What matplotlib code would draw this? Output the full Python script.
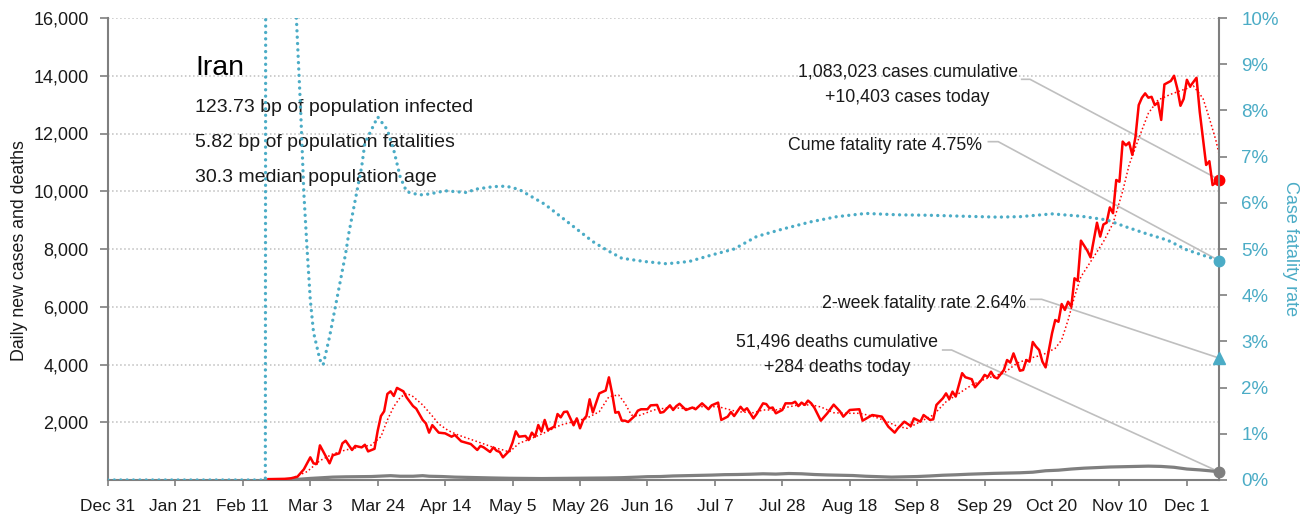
import numpy as np
import matplotlib.pyplot as plt
from matplotlib.ticker import FuncFormatter

plt.rcParams['font.family'] = ['Liberation Sans', 'DejaVu Sans']

RED = '#FF0000'
GRAY = '#7F7F7F'
BLUE = '#4BACC6'
LIGHT = '#BFBFBF'
INK = '#1A1A1A'

# x values are days counted from Dec 31, 2019
last_day = 346
tick_days = list(range(0, 337, 21))
tick_labels = ["Dec 31", "Jan 21", "Feb 11", "Mar 3", "Mar 24", "Apr 14", "May 5",
               "May 26", "Jun 16", "Jul 7", "Jul 28", "Aug 18", "Sep 8", "Sep 29",
               "Oct 20", "Nov 10", "Dec 1"]

country = "Iran"
infected_bp = 123.73
fatal_bp = 5.82
median_age = 30.3
cases_total = 1083023
cases_today = 10403
deaths_total = 51496
deaths_today = 284
cume_cfr = 4.75
twoweek_cfr = 2.64

# daily new cases (day, cases)
cases = [(50, 30), (55, 40), (57, 60), (59, 115), (61, 370), (63, 785), (64, 578), (65, 554),
         (66, 1200), (68, 785), (69, 578), (70, 855), (72, 924), (73, 1270), (74, 1360),
         (76, 1040), (77, 1180), (79, 1130), (80, 1220), (81, 990), (83, 1080), (84, 1710),
         (85, 2215), (86, 2380), (87, 2980), (88, 3070), (89, 2910), (90, 3190), (92, 3070),
         (93, 2860), (95, 2560), (96, 2470), (98, 2080), (99, 1960), (100, 1640), (101, 1900),
         (103, 1640), (105, 1615), (107, 1500), (108, 1560), (110, 1340), (113, 1245),
         (115, 1040), (116, 1180), (117, 1130), (119, 970), (120, 1130), (121, 1015),
         (122, 970), (123, 785), (125, 1015), (126, 1300), (127, 1685), (128, 1500),
         (130, 1525), (131, 1385), (132, 1640), (133, 1500), (134, 1905), (135, 1675),
         (136, 2080), (137, 1730), (139, 1850), (140, 2285), (141, 2170), (142, 2355),
         (143, 2370), (145, 1895), (146, 2135), (147, 1790), (148, 2080), (149, 2215),
         (150, 2795), (151, 2340), (153, 3000), (155, 3100), (156, 3555), (157, 3000),
         (158, 2330), (159, 2355), (160, 2055), (161, 2055), (162, 2010), (164, 2215),
         (165, 2400), (166, 2450), (168, 2450), (169, 2585), (171, 2600), (172, 2330),
         (173, 2355), (175, 2585), (176, 2425), (177, 2560), (178, 2640), (180, 2425),
         (182, 2510), (183, 2450), (185, 2655), (187, 2450), (188, 2585), (190, 2680),
         (191, 2080), (193, 2195), (194, 2355), (195, 2215), (197, 2535), (198, 2400),
         (199, 2485), (201, 2135), (202, 2285), (204, 2655), (205, 2630), (206, 2485),
         (207, 2510), (208, 2310), (210, 2425), (211, 2655), (213, 2655), (214, 2710),
         (215, 2560), (216, 2680), (217, 2600), (218, 2750), (219, 2655), (220, 2500),
         (222, 2055), (224, 2310), (226, 2610), (228, 2370), (229, 2195), (231, 2425),
         (234, 2450), (235, 2055), (238, 2250), (241, 2195), (243, 1850), (245, 1640),
         (246, 1790), (248, 2020), (250, 1870), (251, 2135), (253, 2020), (254, 2250),
         (256, 2080), (257, 2100), (258, 2600), (260, 2830), (261, 3000), (262, 2800),
         (263, 3060), (264, 2890), (266, 3700), (267, 3560), (269, 3490), (270, 3210),
         (272, 3460), (273, 3640), (274, 3570), (275, 3750), (276, 3560), (277, 3520),
         (279, 3810), (280, 4155), (281, 4065), (282, 4385), (284, 3785), (285, 3810),
         (286, 4155), (287, 4100), (288, 4780), (289, 4620), (290, 4500), (291, 4100),
         (292, 3900), (294, 5080), (295, 5540), (296, 5480), (297, 6095), (298, 5890),
         (299, 6175), (300, 6000), (301, 6985), (302, 6900), (303, 8290), (305, 7940),
         (306, 7710), (308, 8910), (309, 8430), (310, 8850), (311, 8910), (312, 9440),
         (313, 9240), (314, 10390), (315, 10330), (316, 11720), (317, 11590), (318, 11690),
         (319, 11260), (320, 11890), (321, 12985), (322, 13240), (323, 13390), (324, 13240),
         (325, 13270), (326, 12985), (327, 13070), (328, 12470), (329, 13700), (331, 13820),
         (332, 14000), (333, 13560), (334, 12960), (335, 13200), (336, 13860), (337, 13630),
         (339, 13930), (340, 12750), (341, 11830), (342, 10910), (343, 11040), (344, 10215),
         (346, 10403)]

# 7-day average of new cases
cases_avg = [(57, 50), (62, 290), (66, 670), (70, 900), (74, 1040), (78, 1130), (82, 1210),
             (85, 1500), (87, 2080), (89, 2540), (91, 2860), (93, 3000), (95, 2890), (98, 2600),
             (101, 2215), (103, 1940), (106, 1710), (109, 1560), (116, 1290), (120, 1130),
             (123, 1040), (125, 970), (128, 1270), (132, 1445), (136, 1640), (141, 1905),
             (145, 2020), (149, 2135), (153, 2365), (156, 2885), (159, 2945), (161, 2655),
             (163, 2250), (165, 2215), (170, 2425), (175, 2515), (180, 2470), (185, 2540),
             (190, 2540), (196, 2365), (201, 2330), (204, 2425), (208, 2425), (211, 2510),
             (215, 2600), (219, 2600), (222, 2530), (226, 2330), (230, 2310), (234, 2310),
             (238, 2215), (242, 2055), (246, 1850), (249, 1790), (253, 2020), (257, 2250),
             (261, 2710), (265, 3000), (269, 3290), (273, 3490), (277, 3640), (279, 3700),
             (283, 4040), (287, 4215), (291, 4330), (295, 4560), (297, 4850), (299, 5540),
             (301, 6350), (303, 7040), (307, 7730), (310, 8250), (313, 8890), (316, 10000),
             (318, 10910), (321, 11830), (324, 12700), (327, 13160), (331, 13360),
             (336, 13560), (338, 13650), (341, 13220), (343, 12525), (345, 11775), (346, 11300)]

# daily deaths
deaths = [(50, 2), (56, 10), (60, 30), (63, 55), (67, 80), (70, 100), (74, 110), (78, 115),
          (82, 120), (86, 140), (88, 150), (91, 130), (95, 130), (98, 150), (100, 130),
          (104, 120), (108, 100), (112, 90), (116, 80), (120, 70), (125, 60), (130, 55),
          (135, 50), (140, 55), (145, 60), (150, 65), (155, 70), (160, 80), (165, 100),
          (168, 115), (172, 120), (176, 140), (180, 150), (184, 160), (188, 170), (192, 185),
          (196, 190), (200, 200), (204, 215), (208, 205), (212, 225), (216, 215), (220, 190),
          (224, 175), (228, 165), (232, 155), (236, 130), (240, 115), (244, 100), (248, 110),
          (252, 120), (256, 140), (260, 165), (264, 180), (268, 200), (272, 215), (276, 230),
          (280, 240), (284, 250), (288, 270), (292, 320), (296, 340), (300, 380), (304, 410),
          (308, 430), (312, 450), (316, 460), (320, 470), (324, 480), (328, 470), (332, 440),
          (336, 380), (340, 350), (343, 320), (346, 284)]

# cumulative case fatality rate, %
cfr = [(0, 0), (49, 0), (50, 100), (51, 40), (53, 18), (55, 19), (57, 14), (58, 11), (60, 8.0),
       (61, 6.2), (62, 5.0), (63, 3.9), (64, 3.2), (66, 2.6), (67, 2.49), (69, 3.1), (71, 3.82),
       (74, 4.9), (75, 5.34), (77, 6.06), (79, 6.78), (80, 7.29), (84, 7.86), (87, 7.58),
       (89, 7.14), (91, 6.56), (93, 6.24), (97, 6.17), (100, 6.19), (105, 6.26), (112, 6.22),
       (114, 6.29), (120, 6.35), (124, 6.36), (128, 6.29), (132, 6.13), (136, 5.97), (141, 5.7),
       (146, 5.43), (151, 5.16), (155, 4.99), (160, 4.8), (167, 4.73), (174, 4.68), (181, 4.73),
       (188, 4.87), (195, 5.0), (202, 5.27), (210, 5.43), (219, 5.59), (227, 5.7), (236, 5.77),
       (246, 5.74), (256, 5.73), (266, 5.71), (277, 5.69), (284, 5.7), (294, 5.76), (303, 5.71),
       (311, 5.63), (317, 5.48), (323, 5.34), (330, 5.19), (336, 4.98), (346, 4.75)]


fig = plt.figure(figsize=(13.1, 5.22), dpi=100)
ax = fig.add_axes([108 / 1310, 42 / 522, 1111 / 1310, 462 / 522])
ax2 = ax.twinx()

x, y = zip(*deaths)
ax.plot(x, y, color=GRAY, lw=2.3, zorder=3)
x, y = zip(*cases)
ax.plot(x, y, color=RED, lw=1.8, zorder=4)
x, y = zip(*cases_avg)
ax.plot(x, y, color=RED, lw=1.1, ls=(0, (1, 1.6)), zorder=5)
x, y = zip(*cfr)
ax2.plot(x, y, color=BLUE, lw=2.4, ls=(0, (0.01, 1.9)), dash_capstyle='round', zorder=3)

# end-of-series markers
ax.plot(last_day, cases_today, 'o', color=RED, ms=7.5, clip_on=False, zorder=6)
ax.plot(last_day, deaths_today, 'o', color=GRAY, ms=7.5, clip_on=False, zorder=6)
ax2.plot(last_day, cume_cfr, 'o', color=BLUE, ms=7.5, clip_on=False, zorder=6)
ax2.plot(last_day, twoweek_cfr, '^', color=BLUE, ms=9, clip_on=False, zorder=6)

ax.set_xlim(0, last_day)
ax.set_ylim(0, 16000)
ax2.set_ylim(0, 10)

ax.set_xticks(tick_days)
ax.set_xticklabels(tick_labels)
ax.set_yticks(range(2000, 16001, 2000))
ax.yaxis.set_major_formatter(FuncFormatter(lambda v, p: f"{int(v):,}"))
ax2.set_yticks(range(0, 11))
ax2.yaxis.set_major_formatter(FuncFormatter(lambda v, p: f"{int(v)}%"))

ax.yaxis.grid(True, ls=':', color=LIGHT, lw=1.1)
ax.set_axisbelow(True)

for a in (ax, ax2):
    for s in a.spines.values():
        s.set_visible(False)
for s in ('left', 'bottom'):
    ax.spines[s].set_visible(True)
    ax.spines[s].set_color(GRAY)
    ax.spines[s].set_linewidth(1.5)
ax2.spines['right'].set_visible(True)
ax2.spines['right'].set_color(GRAY)
ax2.spines['right'].set_linewidth(1.5)

ax.tick_params(axis='x', length=4, width=1.2, color=GRAY, pad=10, labelsize=12.5, labelcolor=INK)
ax.tick_params(axis='y', length=6, width=1.2, color=GRAY, pad=8, labelsize=13, labelcolor=INK)
ax2.tick_params(axis='y', length=6, width=1.2, color=GRAY, pad=10, labelsize=13.5, labelcolor=BLUE)

fig.text(20 / 1310, 1 - 251 / 522, "Daily new cases and deaths", rotation=90,
         ha='center', va='center', fontsize=12.8, color=INK)
fig.text(1291 / 1310, 1 - 249 / 522, "Case fatality rate", rotation=270,
         ha='center', va='center', fontsize=13, color=BLUE)

# country summary block
tx = 87 / 1111
ax.text(tx, 0.877, country, transform=ax.transAxes, fontsize=20.5, color='black', va='baseline')
ax.text(tx, 0.797, f"{infected_bp} bp of population infected", transform=ax.transAxes,
        fontsize=14, color=INK, va='baseline')
ax.text(tx, 0.721, f"{fatal_bp} bp of population fatalities", transform=ax.transAxes,
        fontsize=14, color=INK, va='baseline')
ax.text(tx, 0.646, f"{median_age} median population age", transform=ax.transAxes,
        fontsize=14, color=INK, va='baseline')

# callouts on the right
ax.text(0.7197, 0.874, f"{cases_total:,} cases cumulative", transform=ax.transAxes,
        fontsize=12.8, color=INK, ha='center', va='baseline')
ax.text(0.7197, 0.819, f"+{cases_today:,} cases today", transform=ax.transAxes,
        fontsize=12.8, color=INK, ha='center', va='baseline')
ax.text(0.7864, 0.714, f"Cume fatality rate {cume_cfr}%", transform=ax.transAxes,
        fontsize=12.8, color=INK, ha='right', va='baseline')
ax.text(0.8263, 0.3716, f"2-week fatality rate {twoweek_cfr}%", transform=ax.transAxes,
        fontsize=12.8, color=INK, ha='right', va='baseline')
ax.text(0.6566, 0.2886, f"{deaths_total:,} deaths cumulative", transform=ax.transAxes,
        fontsize=12.8, color=INK, ha='center', va='baseline')
ax.text(0.6566, 0.2345, f"+{deaths_today:,} deaths today", transform=ax.transAxes,
        fontsize=12.8, color=INK, ha='center', va='baseline')


def leader(a, x0, x1, y0, target):
    # horizontal stub from the label, then a straight run to the marker
    tx_, ty_ = ax.transAxes.inverted().transform(a.transData.transform(target))
    ax.plot([x0, x1, tx_], [y0, y0, ty_], color=LIGHT, lw=1.2, transform=ax.transAxes,
            clip_on=False, zorder=2)


leader(ax, 0.8224, 0.8299, 0.8673, (last_day, cases_today))
leader(ax2, 0.7924, 0.8013, 0.7323, (last_day, cume_cfr))
leader(ax2, 0.8305, 0.8404, 0.3911, (last_day, twoweek_cfr))
leader(ax, 0.7513, 0.7593, 0.2814, (last_day, deaths_today))

fig.savefig('out.png', dpi=100)
